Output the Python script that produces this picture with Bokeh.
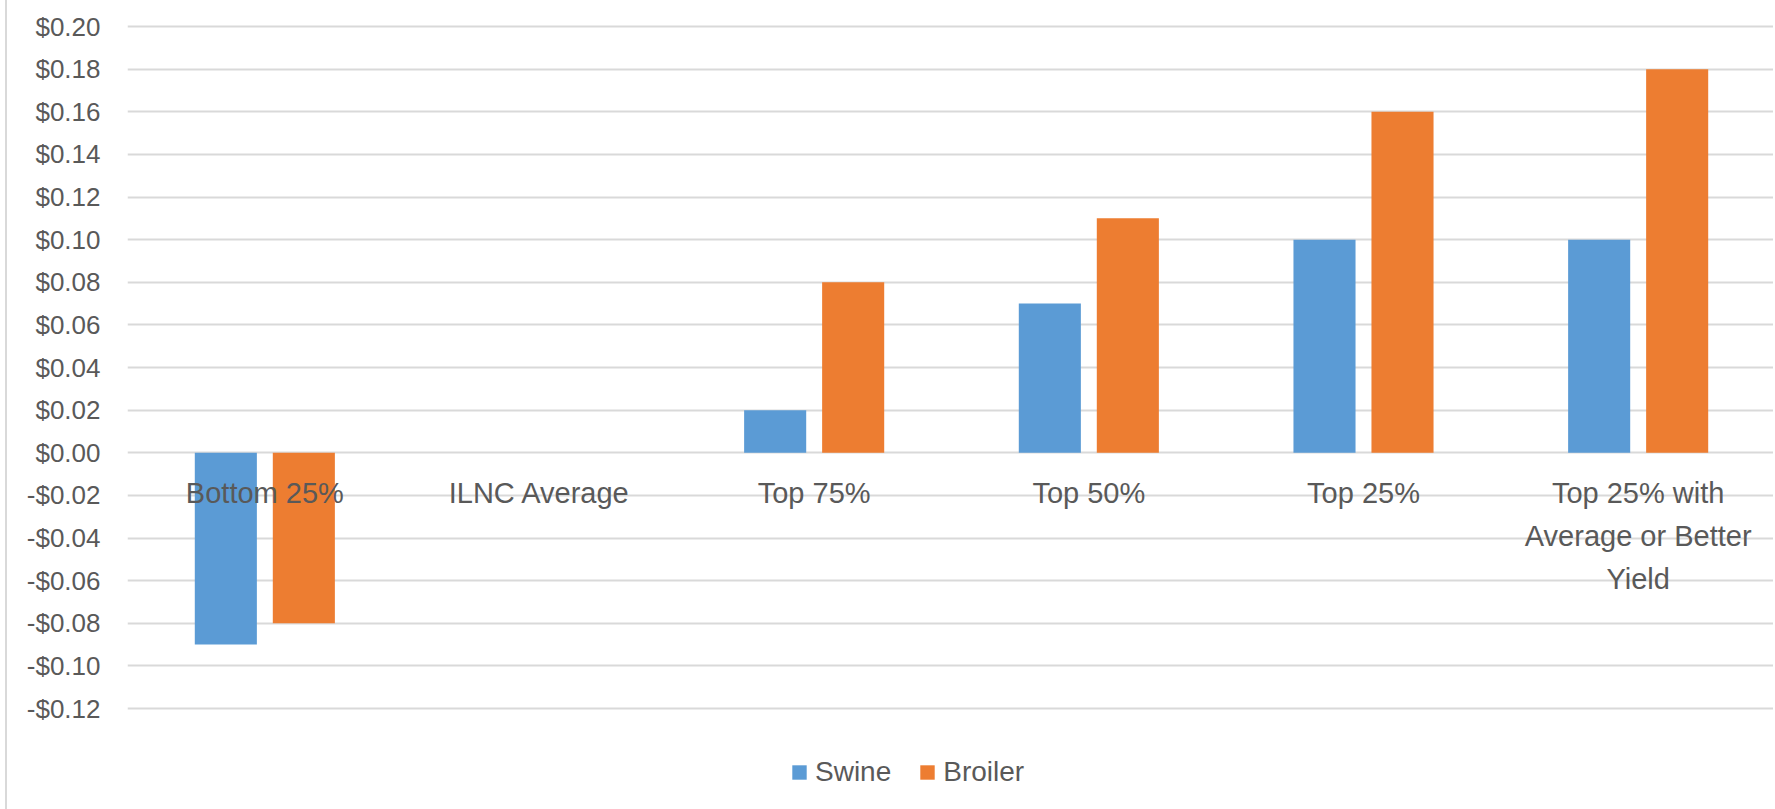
from bokeh.plotting import figure
from bokeh.models import (FactorRange, Range1d, FixedTicker, Legend, LegendItem,
                          ColumnDataSource)
from bokeh.transform import dodge
from bokeh.core.properties import value
from bokeh.embed import file_html
from bokeh.resources import INLINE

# ---- data ----
categories = ["Bottom 25%", "ILNC Average", "Top 75%", "Top 50%", "Top 25%",
              "Top 25% with Average or Better Yield"]
category_labels = ["Bottom 25%", "ILNC Average", "Top 75%", "Top 50%", "Top 25%",
                   "Top 25% with\nAverage or Better\nYield"]
swine = [-0.09, 0.0, 0.02, 0.07, 0.10, 0.10]
broiler = [-0.08, 0.0, 0.08, 0.11, 0.16, 0.18]
series_names = ["Swine", "Broiler"]
y_ticks = [-0.12, -0.10, -0.08, -0.06, -0.04, -0.02, 0.0,
           0.02, 0.04, 0.06, 0.08, 0.10, 0.12, 0.14, 0.16, 0.18, 0.20]
y_tick_labels = ["-$0.12", "-$0.10", "-$0.08", "-$0.06", "-$0.04", "-$0.02", "$0.00",
                 "$0.02", "$0.04", "$0.06", "$0.08", "$0.10", "$0.12", "$0.14",
                 "$0.16", "$0.18", "$0.20"]

SWINE_COLOR = "#5B9BD5"
BROILER_COLOR = "#ED7D31"
TEXT_COLOR = "#595959"
GRID_COLOR = "#D9D9D9"
FONT = "Liberation Sans"

src = ColumnDataSource(dict(
    cat=categories,
    label=category_labels,
    swine=swine,
    broiler=broiler,
    base=[0.0] * len(categories),
))

p = figure(width=1768, height=809,
           x_range=FactorRange(*categories, range_padding=0),
           y_range=Range1d(-0.16739, 0.21220),
           x_axis_location=None,
           toolbar_location=None, output_backend="svg",
           min_border_left=120, min_border_right=0,
           min_border_top=0, min_border_bottom=0)
p.styles = {"margin-left": "5px", "border-left": "2px solid #D9D9D9"}
p.outline_line_color = None
p.background_fill_color = "white"
p.border_fill_color = "white"

# y axis
p.yaxis.ticker = FixedTicker(ticks=y_ticks)
p.yaxis.major_label_overrides = {t: l for t, l in zip(y_ticks, y_tick_labels)}
p.yaxis.axis_line_color = None
p.yaxis.major_tick_line_color = None
p.yaxis.minor_tick_line_color = None
p.yaxis.major_tick_out = 0
p.yaxis.major_tick_in = 0
p.yaxis.major_label_standoff = 27
p.yaxis.major_label_text_font = FONT
p.yaxis.major_label_text_font_size = "26px"
p.yaxis.major_label_text_color = TEXT_COLOR

p.ygrid.ticker = FixedTicker(ticks=y_ticks)
p.ygrid.grid_line_color = GRID_COLOR
p.ygrid.grid_line_width = 2
p.xgrid.grid_line_color = None

# bars
r_swine = p.vbar(x=dodge("cat", -0.142, range=p.x_range), top="swine", bottom="base",
                 width=0.226, source=src, fill_color=SWINE_COLOR, line_color=None)
r_broiler = p.vbar(x=dodge("cat", 0.142, range=p.x_range), top="broiler", bottom="base",
                   width=0.226, source=src, fill_color=BROILER_COLOR, line_color=None)

# category labels next to the zero axis
p.text(x="cat", y="base", text="label", source=src,
       text_font=value(FONT), text_font_size="29px", text_color=TEXT_COLOR,
       text_align="center", text_baseline="top", y_offset=24,
       text_line_height=1.345)

# legend
legend = Legend(items=[LegendItem(label=series_names[0], renderers=[r_swine]),
                       LegendItem(label=series_names[1], renderers=[r_broiler])],
                orientation="horizontal", location=(663, 21),
                padding=0, margin=0, border_line_color=None,
                background_fill_alpha=0,
                glyph_width=18, glyph_height=18, label_standoff=7, spacing=27,
                label_text_font=FONT, label_text_font_size="28px",
                label_text_color=TEXT_COLOR)
p.add_layout(legend)

open("out.html", "w").write(file_html(p, INLINE))
